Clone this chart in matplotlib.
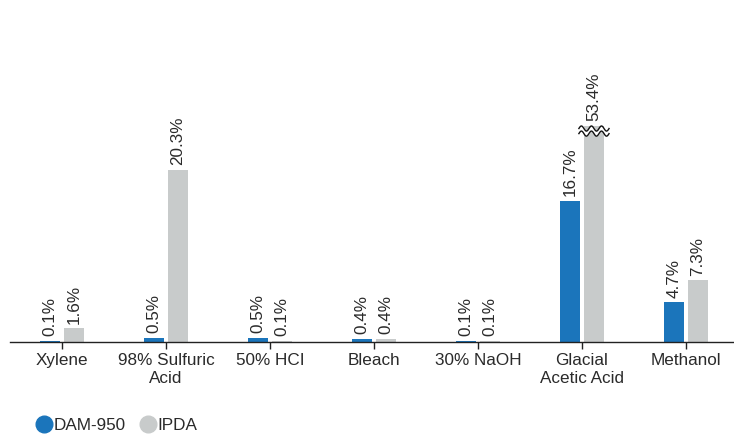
import numpy as np
import matplotlib.pyplot as plt

plt.rcParams['font.family'] = ['Liberation Sans', 'DejaVu Sans']

categories = ['Xylene', '98% Sulfuric\nAcid', '50% HCI', 'Bleach', '30% NaOH',
              'Glacial\nAcetic Acid', 'Methanol']
dam950 = [0.1, 0.5, 0.5, 0.4, 0.1, 16.7, 4.7]
ipda = [1.6, 20.3, 0.1, 0.4, 0.1, 53.4, 7.3]
cap = 25.5  # bars above this are drawn broken

blue = '#1b75bb'
grey = '#c8cbcb'
txt = '#2a2a2a'
fs = 12.3

fig = plt.figure(figsize=(7.34, 4.34), dpi=100)
ax = fig.add_axes([10 / 734, 92 / 434, 728 / 734, 302 / 434])

x = np.arange(len(categories))
w = 0.19
off = 0.115

ax.bar(x - off, dam950, width=w, color=blue)
ipda_shown = [min(v, cap) for v in ipda]
ax.bar(x + off, ipda_shown, width=w, color=grey)

for xi, v in zip(x - off, dam950):
    ax.text(xi, v + 0.55, f'{v}%', rotation=90, ha='center', va='bottom',
            fontsize=fs, color=txt)
for xi, v, s in zip(x + off, ipda, ipda_shown):
    ax.text(xi, s + 0.55, f'{v}%', rotation=90, ha='center', va='bottom',
            fontsize=fs, color=txt)
    if v > cap:
        # zigzag break marks
        xs = np.linspace(xi - w / 2 - 0.05, xi + w / 2 + 0.05, 80)
        wave = 0.3 * np.sin((xs - xs[0]) / (xs[-1] - xs[0]) * 3 * 2 * np.pi)
        y0 = cap - 0.6
        ax.fill_between(xs, y0 - 0.3 + wave, y0 + 0.3 + wave, color='white', lw=0, zorder=3)
        ax.plot(xs, y0 - 0.3 + wave, color='#111111', lw=1.0, zorder=4)
        ax.plot(xs, y0 + 0.3 + wave, color='#111111', lw=1.0, zorder=4)

ax.set_xlim(-0.5, 6.5)
ax.set_ylim(0, 35.65)
ax.set_xticks(x)
ax.set_xticklabels(categories, fontsize=fs, color=txt, linespacing=1.2)
ax.tick_params(axis='x', length=5, width=1, color='#222222', pad=3)
ax.set_yticks([])
for side in ['top', 'right', 'left']:
    ax.spines[side].set_visible(False)
ax.spines['bottom'].set_color('#222222')
ax.spines['bottom'].set_linewidth(1)

h1 = plt.Line2D([], [], marker='o', ls='', color=blue, markersize=12)
h2 = plt.Line2D([], [], marker='o', ls='', color=grey, markersize=12)
fig.legend([h1, h2], ['DAM-950', 'IPDA'], loc='lower left', bbox_to_anchor=(0.026, -0.032),
           ncol=2, frameon=False, fontsize=fs, handletextpad=0.05, columnspacing=0.7,
           handlelength=1.1, labelcolor=txt)

fig.savefig('out.png', dpi=100)
